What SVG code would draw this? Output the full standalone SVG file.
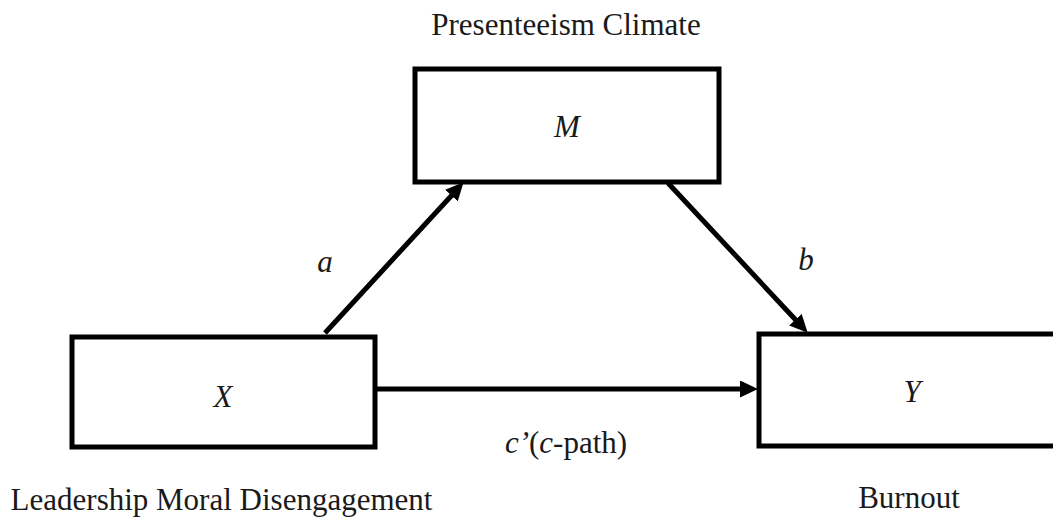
<svg xmlns="http://www.w3.org/2000/svg" width="1053" height="518" viewBox="0 0 1053 518" font-family="'Liberation Serif', 'DejaVu Serif', serif">
  <style>
    .box { fill: #ffffff; stroke: #000000; stroke-width: 5; }
    .lbl { font-family: 'Liberation Serif', 'DejaVu Serif', serif; font-size: 31px; fill: #1a1a1a; }
    .it { font-style: italic; }
    .arr { stroke: #000000; stroke-width: 5; fill: none; marker-end: url(#head); }
  </style>
  <defs>
    <marker id="head" markerUnits="userSpaceOnUse" markerWidth="18" markerHeight="17" refX="6" refY="8.5" orient="auto" viewBox="0 0 18 17">
      <path d="M0,0 L18,8.5 L0,17 z" fill="#000000"/>
    </marker>
  </defs>
  <rect width="1053" height="518" fill="#ffffff"/>

  <g id="connectors">
    <line class="arr" x1="325" y1="333" x2="455.5" y2="191.2"/>
    <line class="arr" x1="668" y1="183" x2="799.5" y2="324"/>
    <line class="arr" x1="375" y1="389" x2="746" y2="389"/>
    <text class="lbl it" x="325" y="272" text-anchor="middle">a</text>
    <text class="lbl it" x="806" y="270" text-anchor="middle">b</text>
    <text class="lbl" x="566" y="453" text-anchor="middle"><tspan class="it">c’</tspan>(<tspan class="it">c</tspan>-path)</text>
  </g>

  <g id="node-M">
    <rect class="box" x="415" y="69" width="304" height="113"/>
    <text class="lbl it" x="567" y="137" text-anchor="middle">M</text>
    <text class="lbl" x="566" y="35" text-anchor="middle">Presenteeism Climate</text>
  </g>

  <g id="node-X">
    <rect class="box" x="72" y="337" width="303" height="110"/>
    <text class="lbl it" x="223" y="407" text-anchor="middle">X</text>
    <text class="lbl" x="221.5" y="510" text-anchor="middle">Leadership Moral Disengagement</text>
  </g>

  <g id="node-Y">
    <rect class="box" x="759" y="334" width="310" height="112"/>
    <text class="lbl it" x="912" y="402" text-anchor="middle">Y</text>
    <text class="lbl" x="909" y="508" text-anchor="middle">Burnout</text>
  </g>
</svg>
